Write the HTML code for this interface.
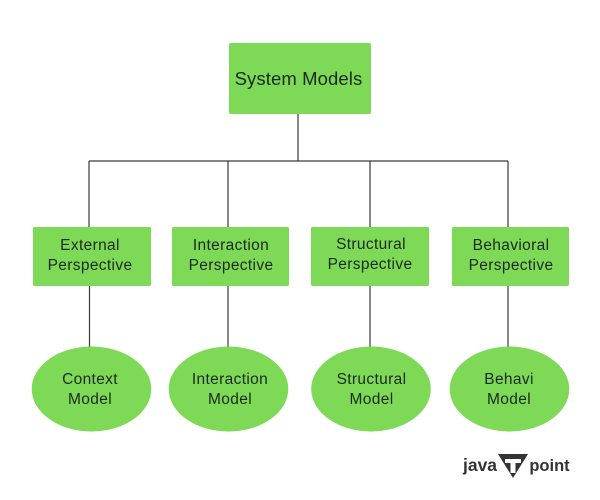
<!DOCTYPE html>
<html>
<head>
<meta charset="utf-8">
<style>
html,body{margin:0;padding:0;background:#fff;width:600px;height:500px;overflow:hidden}
svg{display:block}
text{font-family:"Liberation Sans",sans-serif;fill:#1b2a1b;text-anchor:middle}
.t{font-size:15.5px;letter-spacing:.35px}
</style>
</head>
<body>
<svg width="600" height="500" viewBox="0 0 600 500" xmlns="http://www.w3.org/2000/svg">
<rect width="600" height="500" fill="#fff"/>
<g stroke="#3a3a3a" stroke-width="1.2" fill="none">
<path d="M298 114V161M89 161H508M89 161V227M228 161V227M370 161V227M508 161V227"/>
<path d="M89.500 286V347M228 286V347M370 286V347M508 286V347"/>
</g>
<g fill="#7ed957">
<rect x="229" y="43" width="142" height="71" rx="2"/>
<rect x="33" y="227" width="118" height="59" rx="1.500"/>
<rect x="172" y="227" width="117" height="59" rx="1.500"/>
<rect x="311" y="227" width="118" height="59" rx="1.500"/>
<rect x="452" y="227" width="117" height="59" rx="1.500"/>
<ellipse cx="91.500" cy="389" rx="59.800" ry="42.500"/>
<ellipse cx="228.500" cy="389" rx="59.800" ry="42.500"/>
<ellipse cx="371" cy="389" rx="59.800" ry="42.500"/>
<ellipse cx="509.500" cy="389" rx="59.800" ry="42.500"/>
</g>
<text x="298.500" y="85" style="font-size:18.500px;letter-spacing:.1px">System Models</text>
<text class="t" x="90" y="250">External</text>
<text class="t" x="90" y="270">Perspective</text>
<text class="t" x="231" y="250">Interaction</text>
<text class="t" x="231" y="270">Perspective</text>
<text class="t" x="371" y="249">Structural</text>
<text class="t" x="370" y="269">Perspective</text>
<text class="t" x="511" y="250">Behavioral</text>
<text class="t" x="511" y="270">Perspective</text>
<text class="t" x="90" y="384">Context</text>
<text class="t" x="90" y="404">Model</text>
<text class="t" x="230" y="384">Interaction</text>
<text class="t" x="230" y="404">Model</text>
<text class="t" x="371.500" y="384">Structural</text>
<text class="t" x="371.500" y="404">Model</text>
<text class="t" x="509" y="384">Behavi</text>
<text class="t" x="509" y="404">Model</text>
<text x="480" y="471" style="font-size:17.500px;font-weight:bold;fill:#333">java</text>
<path d="M498 454H528L513 478Z" fill="#333"/>
<path d="M505 459H521V463H515.500V473H510.500V463H505Z" fill="#fff"/>
<text x="549.500" y="471" style="font-size:16.500px;font-weight:bold;fill:#333">point</text>
</svg>
</body>
</html>
